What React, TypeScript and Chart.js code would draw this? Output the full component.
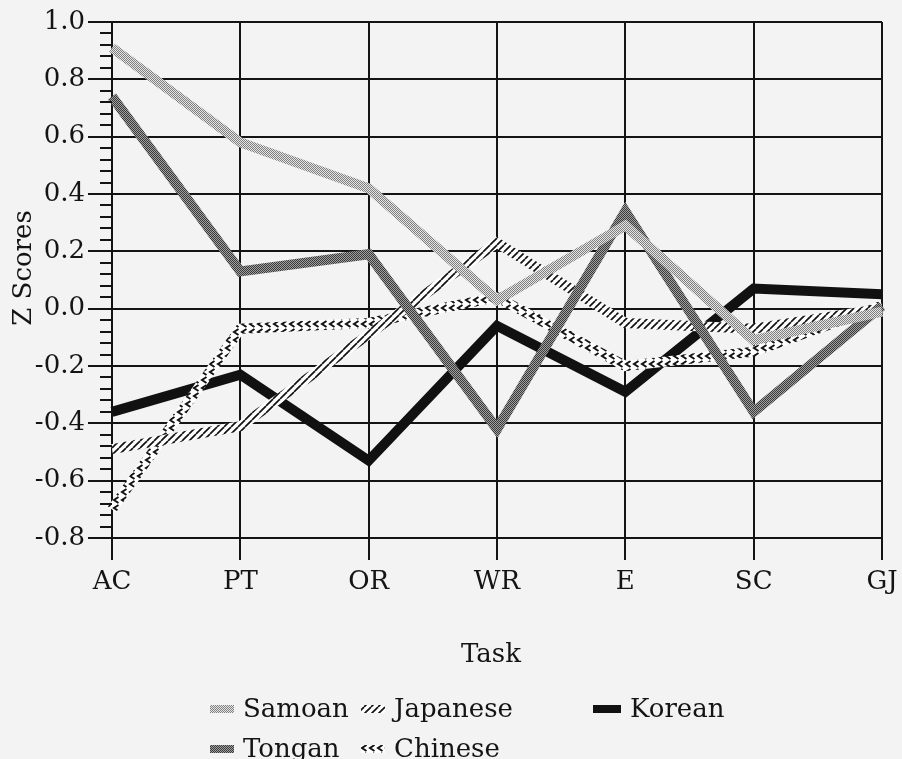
import React, { useEffect, useRef } from "react";
import { Chart, registerables } from "chart.js";

Chart.register(...registerables);

// ---- data ----
const tasks = ["AC", "PT", "OR", "WR", "E", "SC", "GJ"];
const samoan = [0.91, 0.58, 0.42, 0.03, 0.29, -0.11, -0.01];
const tongan = [0.74, 0.13, 0.19, -0.42, 0.34, -0.36, 0.01];
const japanese = [-0.49, -0.41, -0.09, 0.23, -0.05, -0.07, 0.0];
const chinese = [-0.7, -0.07, -0.05, 0.04, -0.2, -0.15, 0.01];
const korean = [-0.36, -0.23, -0.53, -0.06, -0.29, 0.07, 0.05];
const yMin = -0.8;
const yMax = 1.0;
const yStep = 0.2;
const yMinorStep = 0.04;
const xTitle = "Task";
const yTitle = "Z Scores";
const seriesNames = ["Samoan", "Tongan", "Japanese", "Chinese", "Korean"];

const FONT = "'DejaVu Serif', serif";
const INK = "#141414";

function makePattern(size: number, draw: (g: CanvasRenderingContext2D, s: number) => void) {
  const c = document.createElement("canvas");
  c.width = size;
  c.height = size;
  const g = c.getContext("2d")!;
  draw(g, size);
  return g.createPattern(c, "repeat")!;
}

function buildPatterns() {
  const samoanP = makePattern(2, (g) => {
    g.fillStyle = "#e4e4e4";
    g.fillRect(0, 0, 2, 2);
    g.fillStyle = "#808080";
    g.fillRect(0, 0, 1, 1);
    g.fillRect(1, 1, 1, 1);
  });
  const tonganP = makePattern(2, (g) => {
    g.fillStyle = "#a0a0a0";
    g.fillRect(0, 0, 2, 2);
    g.fillStyle = "#3a3a3a";
    g.fillRect(0, 0, 1, 1);
    g.fillRect(1, 1, 1, 1);
  });
  const japaneseP = makePattern(7, (g, s) => {
    g.fillStyle = "#ffffff";
    g.fillRect(0, 0, s, s);
    g.strokeStyle = "#111";
    g.lineWidth = 1.7;
    for (let i = -1; i <= 1; i++) {
      g.beginPath();
      g.moveTo(i * s, s);
      g.lineTo(i * s + s, 0);
      g.stroke();
    }
  });
  const chineseP = makePattern(8, (g, s) => {
    g.fillStyle = "#ffffff";
    g.fillRect(0, 0, s, s);
    g.strokeStyle = "#111";
    g.lineWidth = 2;
    g.beginPath();
    g.moveTo(6.5, 1);
    g.lineTo(2, 4);
    g.lineTo(6.5, 7);
    g.stroke();
  });
  return { samoanP, tonganP, japaneseP, chineseP };
}

export default function App() {
  const ref = useRef<HTMLCanvasElement | null>(null);

  useEffect(() => {
    document.body.style.margin = "0";
    const canvas = ref.current!;
    const { samoanP, tonganP, japaneseP, chineseP } = buildPatterns();
    const styles = [samoanP, tonganP, japaneseP, chineseP, "#111111"];
    const seriesData = [samoan, tongan, japanese, chinese, korean];

    const decor = {
      id: "decor",
      beforeDraw(chart: any) {
        const ctx = chart.ctx;
        ctx.save();
        ctx.fillStyle = "#f3f3f3";
        ctx.fillRect(0, 0, chart.width, chart.height);
        ctx.restore();
      },
      afterDraw(chart: any) {
        const ctx = chart.ctx;
        const ys = chart.scales.y;
        const area = chart.chartArea;
        ctx.save();
        // y tick marks (major + minor)
        ctx.strokeStyle = INK;
        ctx.lineWidth = 2;
        const n = Math.round((yMax - yMin) / yMinorStep);
        for (let i = 0; i <= n; i++) {
          const v = yMin + i * yMinorStep;
          const py = Math.round(ys.getPixelForValue(v));
          const major = i % Math.round(yStep / yMinorStep) === 0;
          ctx.beginPath();
          ctx.moveTo(area.left - (major ? 24 : 12), py);
          ctx.lineTo(area.left, py);
          ctx.stroke();
        }
        // y title
        ctx.fillStyle = INK;
        ctx.font = `26px ${FONT}`;
        ctx.textAlign = "center";
        ctx.textBaseline = "middle";
        ctx.save();
        ctx.translate(24, 268);
        ctx.rotate(-Math.PI / 2);
        ctx.fillText(yTitle, 0, 0);
        ctx.restore();
        // x title
        ctx.textBaseline = "alphabetic";
        ctx.fillText(xTitle, 491, 662);
        // legend
        const items = [
          { x: 210, y: 717, w: 24 },
          { x: 210, y: 757, w: 24 },
          { x: 361, y: 717, w: 24 },
          { x: 361, y: 757, w: 24 },
          { x: 593, y: 717, w: 28 },
        ];
        ctx.font = `26px ${FONT}`;
        ctx.textAlign = "left";
        items.forEach((it, i) => {
          ctx.fillStyle = styles[i] as any;
          ctx.fillRect(it.x, it.y - 12, it.w, 8);
          ctx.fillStyle = INK;
          ctx.fillText(seriesNames[i], it.x + it.w + 9, it.y);
        });
        ctx.restore();
      },
    };

    const chart = new Chart(canvas, {
      type: "line",
      data: {
        labels: tasks,
        datasets: seriesData.map((d, i) => ({
          label: seriesNames[i],
          data: d,
          borderColor: styles[i] as any,
          backgroundColor: styles[i] as any,
          borderWidth: 10,
          pointRadius: 0,
          tension: 0,
          fill: false,
          borderJoinStyle: "miter" as const,
          borderCapStyle: "butt" as const,
        })),
      },
      options: {
        animation: false,
        responsive: false,
        devicePixelRatio: 1,
        layout: { padding: { top: 22, right: 20, bottom: 0, left: 0 } },
        plugins: { legend: { display: false }, tooltip: { enabled: false } },
        scales: {
          x: {
            type: "category",
            offset: false,
            afterFit: (s: any) => {
              s.height = 221;
              s.paddingLeft = 0;
              s.paddingRight = 0;
            },
            grid: {
              color: INK,
              lineWidth: 2,
              drawTicks: true,
              tickLength: 22,
              tickColor: INK,
              tickWidth: 2,
            },
            border: { display: true, color: INK, width: 2 },
            ticks: {
              color: INK,
              font: { family: FONT, size: 26 },
              padding: 7,
              maxRotation: 0,
              autoSkip: false,
            },
          },
          y: {
            type: "linear",
            min: yMin,
            max: yMax,
            afterFit: (s: any) => {
              s.width = 112;
              s.paddingTop = 0;
              s.paddingBottom = 0;
            },
            grid: { color: INK, lineWidth: 2, drawTicks: false },
            border: { display: true, color: INK, width: 2 },
            ticks: {
              stepSize: yStep,
              color: INK,
              font: { family: FONT, size: 26 },
              padding: 27,
              callback: (v: any) => {
                const n = Number(v);
                return (Math.abs(n) < 1e-9 ? 0 : n).toFixed(1);
              },
            },
          },
        },
      },
      plugins: [decor],
    });
    return () => chart.destroy();
  }, []);

  return (
    <div style={{ width: 902, height: 759, position: "relative" }}>
      <canvas ref={ref} width={902} height={759} style={{ display: "block" }} />
    </div>
  );
}
